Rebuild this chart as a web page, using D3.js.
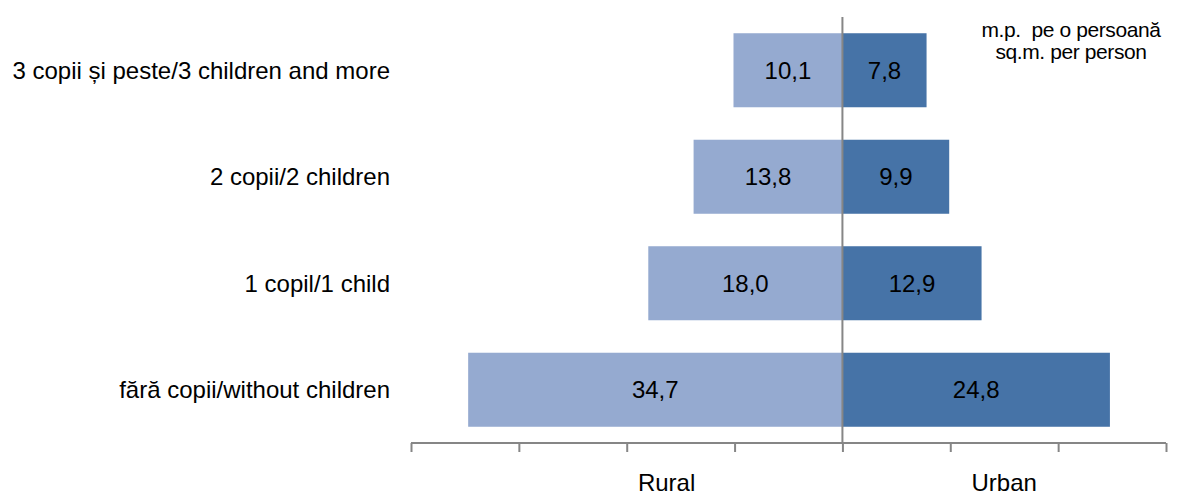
<!DOCTYPE html>
<html><head><meta charset="utf-8">
<script src="https://cdn.jsdelivr.net/npm/d3@7"></script>
<style>body{margin:0;background:#fff}svg{display:block;font-family:"Liberation Sans",Arial,sans-serif}</style>
</head><body>
<svg id="c" width="1177" height="495"></svg>
<script>
const categories = ["3 copii și peste/3 children and more","2 copii/2 children","1 copil/1 child","fără copii/without children"];
const rural = [10.1, 13.8, 18.0, 34.7];
const urban = [7.8, 9.9, 12.9, 24.8];
const tickValues = [-40,-30,-20,-10,0,10,20,30];
const sideLabels = ["Rural","Urban"];
const unitLines = ["m.p.  pe o persoană","sq.m. per person"];

const svg = d3.select("#c");
const x = d3.scaleLinear().domain([-40,30]).range([411,1166]);
const y = d3.scaleBand().domain(categories).range([17,443]).paddingInner(0.305).paddingOuter(0.1525);
const fmt = v => d3.format(".1f")(v).replace(".",",");

const rows = categories.map((c,i)=>({c, r:rural[i], u:urban[i]}));

svg.selectAll("rect.r").data(rows).join("rect").attr("class","r")
  .attr("x",d=>x(-d.r)).attr("y",d=>y(d.c)).attr("width",d=>x(0)-x(-d.r)).attr("height",y.bandwidth())
  .attr("fill","#95aad0");
svg.selectAll("rect.u").data(rows).join("rect").attr("class","u")
  .attr("x",x(0)).attr("y",d=>y(d.c)).attr("width",d=>x(d.u)-x(0)).attr("height",y.bandwidth())
  .attr("fill","#4673a7");

svg.selectAll("text.rv").data(rows).join("text").attr("class","rv")
  .attr("x",d=>(x(-d.r)+x(0))/2).attr("y",d=>y(d.c)+y.bandwidth()/2).attr("dy","0.36em")
  .attr("text-anchor","middle").attr("font-size",24).attr("fill","#000").text(d=>fmt(d.r));
svg.selectAll("text.uv").data(rows).join("text").attr("class","uv")
  .attr("x",d=>(x(d.u)+x(0))/2).attr("y",d=>y(d.c)+y.bandwidth()/2).attr("dy","0.36em")
  .attr("text-anchor","middle").attr("font-size",24).attr("fill","#000").text(d=>fmt(d.u));

svg.selectAll("text.cat").data(categories).join("text").attr("class","cat")
  .attr("x",390).attr("y",d=>y(d)+y.bandwidth()/2).attr("dy","0.36em")
  .attr("text-anchor","end").attr("font-size",24).attr("fill","#000").text(d=>d);

// center line
svg.append("line").attr("x1",x(0)).attr("x2",x(0)).attr("y1",17).attr("y2",443)
  .attr("stroke","#868686").attr("stroke-width",2);

// bottom axis
const ax = svg.append("g").attr("transform","translate(0,443)")
  .call(d3.axisBottom(x).tickValues(tickValues).tickSize(9).tickFormat(""));
ax.select(".domain").attr("stroke","#868686").attr("stroke-width",2).attr("d",`M${x(-40)},0H${x(30)}`);
ax.selectAll(".tick line").attr("stroke","#868686").attr("stroke-width",2);

svg.append("text").attr("x",x(-16.3)).attr("y",491).attr("text-anchor","middle").attr("font-size",24).text(sideLabels[0]);
svg.append("text").attr("x",x(15)).attr("y",491).attr("text-anchor","middle").attr("font-size",24).text(sideLabels[1]);

svg.selectAll("text.unit").data(unitLines).join("text").attr("class","unit")
  .attr("x",1071).attr("y",(d,i)=>37+i*22).attr("text-anchor","middle").attr("font-size",21)
  .attr("letter-spacing",-0.4).style("white-space","pre").text(d=>d);
</script>
</body></html>
